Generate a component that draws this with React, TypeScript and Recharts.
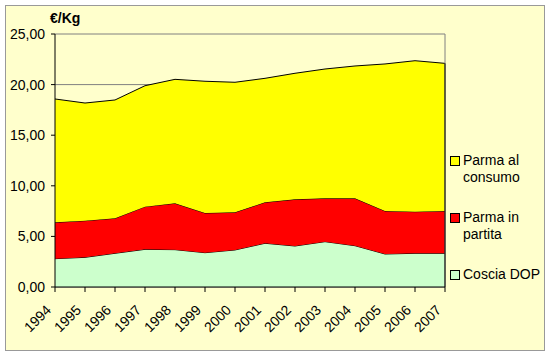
import React from 'react';
import { AreaChart, Area, XAxis, YAxis, CartesianGrid, Legend, ReferenceLine } from 'recharts';

// values (€/Kg), stacked bottom to top
const years = ['1994', '1995', '1996', '1997', '1998', '1999', '2000', '2001', '2002', '2003', '2004', '2005', '2006', '2007'];
const cosciaDop = [2.8, 2.93, 3.33, 3.72, 3.69, 3.39, 3.66, 4.32, 4.05, 4.48, 4.08, 3.26, 3.33, 3.33];
const parmaInPartita = [3.59, 3.62, 3.46, 4.22, 4.58, 3.92, 3.72, 4.05, 4.61, 4.28, 4.68, 4.25, 4.11, 4.18];
const parmaAlConsumo = [12.19, 11.63, 11.69, 11.95, 12.25, 13.02, 12.85, 12.25, 12.46, 12.78, 13.08, 14.53, 14.92, 14.59];
const yTicks = [0, 5, 10, 15, 20, 25];

const data = years.map((year, i) => ({
  year,
  coscia: cosciaDop[i],
  partita: parmaInPartita[i],
  consumo: parmaAlConsumo[i],
}));

const lastTotal = cosciaDop[years.length - 1] + parmaInPartita[years.length - 1] + parmaAlConsumo[years.length - 1];

const legendItems = [
  { lines: ['Parma al', 'consumo'], color: '#FFFF00' },
  { lines: ['Parma in', 'partita'], color: '#FF0000' },
  { lines: ['Coscia DOP'], color: '#CCFFCC' },
];

const font = '"Liberation Sans", Arial, sans-serif';

const XTick = ({ x, y, payload }: any) => {
  const ax = x - 3;
  const ay = y + 17;
  return (
    <text
      x={ax}
      y={ay}
      transform={`rotate(-45, ${ax}, ${ay})`}
      textAnchor="end"
      fontSize={14}
      fontFamily={font}
      fill="#000"
    >
      {payload.value}
    </text>
  );
};

const LegendBox = () => (
  <div style={{ fontFamily: font, fontSize: 14, color: '#000', width: 100 }}>
    {legendItems.map((item) => (
      <div key={item.color} style={{ position: 'relative', paddingLeft: 13, marginBottom: 23, lineHeight: '17px' }}>
        <span
          style={{
            position: 'absolute',
            left: 0,
            top: 4,
            width: 8,
            height: 8,
            background: item.color,
            border: '1px solid #000',
          }}
        />
        {item.lines.map((l) => (
          <div key={l}>{l}</div>
        ))}
      </div>
    ))}
  </div>
);

export default function App() {
  return (
    <div style={{ position: 'absolute', left: 0, top: 0, width: 551, height: 358, background: '#fff' }}>
      <div
        style={{
          position: 'absolute',
          left: 5,
          top: 5,
          width: 538,
          height: 344,
          background: '#FFFFCC',
          border: '1px solid #999',
        }}
      />
      <div
        style={{
          position: 'absolute',
          left: 50,
          top: 10,
          fontFamily: font,
          fontSize: 14,
          fontWeight: 'bold',
        }}
      >
        €/Kg
      </div>
      <div style={{ position: 'absolute', left: 0, top: 0 }}>
        <AreaChart width={551} height={358} data={data} margin={{ top: 34, right: 106, bottom: 11, left: 10 }}>
          <CartesianGrid vertical={false} stroke="#808080" />
          <XAxis
            dataKey="year"
            height={60}
            axisLine={{ stroke: '#000' }}
            tickLine={{ stroke: '#000' }}
            tickSize={5}
            tick={<XTick />}
            interval={0}
          />
          <YAxis
            width={45}
            domain={[0, 25]}
            ticks={yTicks}
            tickFormatter={(v: number) => v.toFixed(2).replace('.', ',')}
            axisLine={{ stroke: '#000' }}
            tickLine={{ stroke: '#000' }}
            tickSize={4}
            tickMargin={6}
            tick={{ fontSize: 14, fontFamily: font, fill: '#000' }}
          />
          <Area type="linear" dataKey="coscia" name="Coscia DOP" stackId="1" stroke="#000" strokeWidth={1} fill="#CCFFCC" fillOpacity={1} isAnimationActive={false} />
          <Area type="linear" dataKey="partita" name="Parma in partita" stackId="1" stroke="#000" strokeWidth={1} fill="#FF0000" fillOpacity={1} isAnimationActive={false} />
          <Area type="linear" dataKey="consumo" name="Parma al consumo" stackId="1" stroke="#000" strokeWidth={1} fill="#FFFF00" fillOpacity={1} isAnimationActive={false} />
          <ReferenceLine x="2007" stroke="#808080" />
          <ReferenceLine segment={[{ x: '2007', y: 0 }, { x: '2007', y: lastTotal }]} stroke="#000" />
          <Legend layout="vertical" verticalAlign="middle" wrapperStyle={{ left: 450, top: 152, width: 100 }} content={() => <LegendBox />} />
        </AreaChart>
      </div>
    </div>
  );
}
